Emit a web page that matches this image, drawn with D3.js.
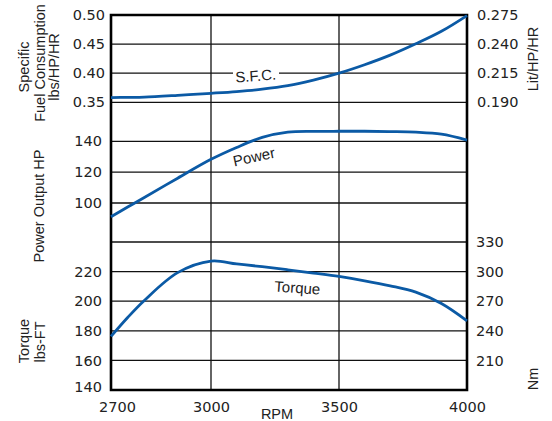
<!DOCTYPE html>
<html>
<head>
<meta charset="utf-8">
<script src="https://cdn.jsdelivr.net/npm/d3@7"></script>
<style>
  body { margin: 0; background: #fff; }
  text { font-family: "Liberation Sans", Arial, sans-serif; fill: #222; }
</style>
</head>
<body>
<div id="chart"></div>
<script>
// engine speed
var rpm = [2700, 2750, 2800, 2900, 3000, 3100, 3200, 3300, 3400, 3500, 3600, 3700, 3800, 3900, 4000]
// specific fuel consumption, lbs/HP/HR
var sfc = [0.358, 0.3585, 0.359, 0.362, 0.3655, 0.3685, 0.3725, 0.3785, 0.388, 0.400, 0.4145, 0.431, 0.4505, 0.472, 0.499]
// power output, HP
var power = [91.1, 97.4, 103.6, 116.1, 128.3, 136.0, 142.5, 145.9, 146.4, 146.5, 146.5, 146.3, 145.9, 144.6, 140.8]
// torque, lbs-FT
var torque = [176.2, 189, 200.5, 219.3, 227.1, 225.2, 223.3, 221.2, 219, 216.7, 213.8, 210.4, 206.1, 198.4, 186.7]

// tick labels
var rpmTicks = [2700, 3000, 3500, 4000]
var sfcTicks = [0.50, 0.45, 0.40, 0.35]
var litLabels = ["0.275", "0.240", "0.215", "0.190"]
var powerTicks = [140, 120, 100]
var torqueTicks = [220, 200, 180, 160, 140]
var torqueGrid = [240, 220, 200, 180, 160]
var nmLabels = ["330", "300", "270", "240", "210"]

var width = 552
var height = 421
var mLeft = 111, mRight = 467, mTop = 15, mBottom = 390
var blue = "#0b5aa5"
var tickFont = "DejaVu Sans, sans-serif"

var svg = d3.select("#chart").append("svg")
    .attr("width", width)
    .attr("height", height)

// rpm axis is stretched below 3000 in the original
var x = d3.scaleLinear().domain([2700, 3000, 4000]).range([mLeft, 211, mRight])
var ySfc = d3.scaleLinear().domain([0.35, 0.50]).range([102.3, mTop])
var yPow = d3.scaleLinear().domain([100, 140]).range([203, 141.3])
var yTq = d3.scaleLinear().domain([140, 240]).range([mBottom, 242])

// horizontal grid
var gridY = sfcTicks.map(ySfc).concat(powerTicks.map(yPow), torqueGrid.map(yTq))
svg.append("g").selectAll("line")
    .data(gridY)
    .enter().append("line")
    .attr("x1", mLeft).attr("x2", mRight)
    .attr("y1", d => d).attr("y2", d => d)
    .attr("stroke", "#111")
    .attr("stroke-width", 1.3)

// vertical grid
svg.append("g").selectAll("line")
    .data(rpmTicks.slice(1, 3))
    .enter().append("line")
    .attr("x1", d => x(d)).attr("x2", d => x(d))
    .attr("y1", mTop).attr("y2", mBottom)
    .attr("stroke", "#111")
    .attr("stroke-width", 1.3)

// frame
svg.append("path")
    .attr("d", `M${mLeft},${mTop}H${mRight}V${mBottom}H${mLeft}Z`)
    .attr("fill", "none")
    .attr("stroke", "#000")
    .attr("stroke-width", 2.6)

// axes (labels only)
function styleAxis (g) {
    g.select(".domain").remove()
    g.selectAll("text").style("font-family", tickFont)
        .attr("font-size", 14.5).attr("fill", "#222")
}

svg.append("g").attr("transform", `translate(${mLeft},0)`)
    .call(d3.axisLeft(ySfc).tickValues(sfcTicks).tickFormat(d3.format(".2f")).tickSize(0).tickPadding(6))
    .call(styleAxis)
svg.append("g").attr("transform", `translate(${mLeft},0)`)
    .call(d3.axisLeft(yPow).tickValues(powerTicks).tickSize(0).tickPadding(9))
    .call(styleAxis)
svg.append("g").attr("transform", `translate(${mLeft},0)`)
    .call(d3.axisLeft(yTq).tickValues(torqueTicks).tickSize(0).tickPadding(9))
    .call(styleAxis)
    .selectAll(".tick text").filter(d => d == 140).attr("dy", "0.1em")

svg.append("g").attr("transform", `translate(${mRight},0)`)
    .call(d3.axisRight(ySfc).tickValues(sfcTicks).tickFormat((d, i) => litLabels[i]).tickSize(0).tickPadding(10))
    .call(styleAxis)
svg.append("g").attr("transform", `translate(${mRight},0)`)
    .call(d3.axisRight(yTq).tickValues(torqueGrid).tickFormat((d, i) => nmLabels[i]).tickSize(0).tickPadding(9))
    .call(styleAxis)

var xAxis = svg.append("g").attr("transform", `translate(0,${mBottom})`)
    .call(d3.axisBottom(x).tickValues(rpmTicks).tickFormat(d3.format("d")).tickSize(0).tickPadding(12))
    .call(styleAxis)
xAxis.selectAll(".tick text").filter(d => d == 2700).attr("dx", 6)

// curves
var series = [sfc.map((v, i) => [rpm[i], ySfc(v)]),
              power.map((v, i) => [rpm[i], yPow(v)]),
              torque.map((v, i) => [rpm[i], yTq(v)])]
var line = d3.line().x(d => x(d[0])).y(d => d[1]).curve(d3.curveCatmullRom.alpha(0.5))
svg.append("g").selectAll("path")
    .data(series)
    .enter().append("path")
    .attr("d", line)
    .attr("fill", "none")
    .attr("stroke", blue)
    .attr("stroke-width", 2.8)

// curve labels
svg.append("rect").attr("x", 233).attr("y", 67).attr("width", 46).attr("height", 13).attr("fill", "#fff")
svg.append("text").attr("transform", "translate(256,81) rotate(-4)")
    .attr("text-anchor", "middle").attr("font-size", 15).text("S.F.C.")
svg.append("text").attr("transform", "translate(255,162) rotate(-12)")
    .attr("text-anchor", "middle").attr("font-size", 15).text("Power")
svg.append("text").attr("transform", "translate(297,293) rotate(4)")
    .attr("text-anchor", "middle").attr("font-size", 15).text("Torque")

// axis titles
function vTitle (cx, cy, txt) {
    svg.append("text")
        .attr("transform", `translate(${cx},${cy}) rotate(-90)`)
        .attr("text-anchor", "middle")
        .attr("font-size", 14.5)
        .text(txt)
}
vTitle(29, 67, "Specific")
vTitle(45, 63, "Fuel Consumption")
vTitle(59, 67, "lbs/HP/HR")
vTitle(44, 206, "Power Output HP")
vTitle(29, 341, "Torque")
vTitle(45, 342, "lbs-FT")
vTitle(538, 59, "Lit/HP/HR")
vTitle(538, 379, "Nm")

svg.append("text").attr("x", 277).attr("y", 419)
    .attr("text-anchor", "middle").attr("font-size", 14.5).text("RPM")
</script>
</body>
</html>
